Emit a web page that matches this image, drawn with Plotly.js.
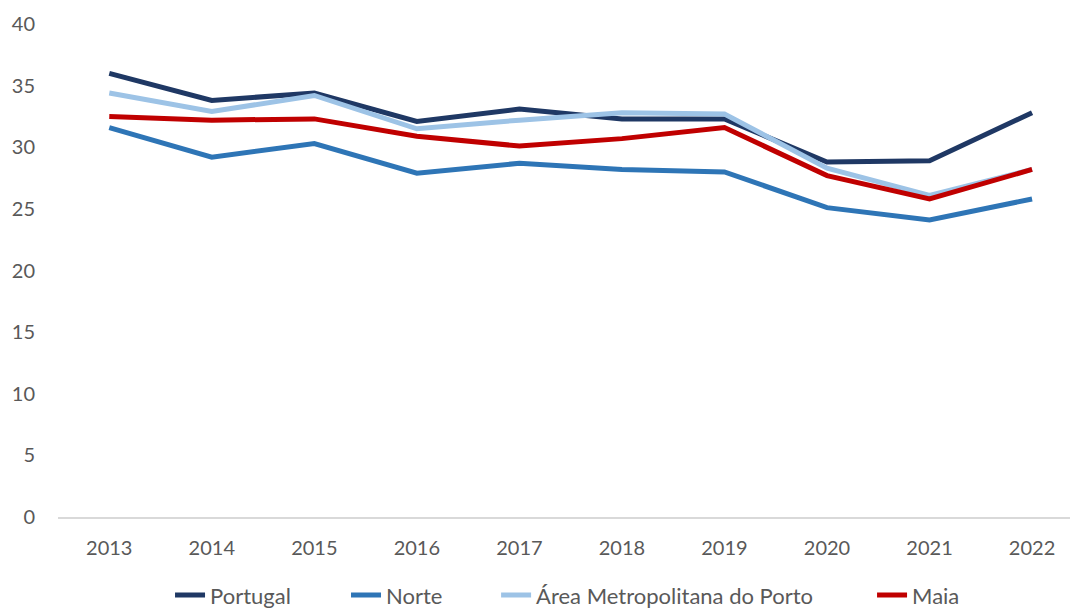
<!DOCTYPE html>
<html>
<head>
<meta charset="utf-8">
<script src="https://cdn.plot.ly/plotly-3.0.1.min.js"></script>
<style>html,body{margin:0;padding:0;background:#fff;}#chart{width:1070px;height:610px;}</style>
</head>
<body>
<div id="chart"></div>
<script>
const years = ["2013","2014","2015","2016","2017","2018","2019","2020","2021","2022"];
const portugal = [36.0, 33.8, 34.4, 32.1, 33.1, 32.3, 32.3, 28.8, 28.9, 32.8];
const norte    = [31.6, 29.2, 30.3, 27.9, 28.7, 28.2, 28.0, 25.1, 24.1, 25.8];
const amp      = [34.4, 32.9, 34.2, 31.5, 32.2, 32.8, 32.7, 28.3, 26.1, 28.2];
const maia     = [32.5, 32.2, 32.3, 30.9, 30.1, 30.7, 31.6, 27.7, 25.8, 28.2];
const seriesNames = ["Portugal", "Norte", "Área Metropolitana do Porto", "Maia"];
const colors = ["#1F3864", "#2E75B6", "#9DC3E6", "#C00000"];
const values = [portugal, norte, amp, maia];
const legendIds = ["legend", "legend2", "legend3", "legend4"];
const legendX = [0.1107, 0.2846, 0.4329, 0.8044];

const traces = values.map((v, i) => ({
  x: years, y: v, name: seriesNames[i], type: "scatter", mode: "lines",
  legend: legendIds[i],
  line: {color: colors[i], width: 5, shape: "linear"}
}));

const layout = {
  width: 1070, height: 610,
  margin: {l: 58, r: 0, t: 24, b: 93, autoexpand: false},
  paper_bgcolor: "#fff", plot_bgcolor: "#fff",
  font: {family: "Lato, 'Liberation Sans', sans-serif", color: "#595959", size: 20},
  showlegend: true,
  xaxis: {type: "category", range: [-0.5, 9.37], showgrid: false, zeroline: false,
          showline: true, linecolor: "#D9D9D9", linewidth: 2, ticks: "", ticklen: 0,
          tickfont: {size: 20, color: "#595959"}, ticklabelstandoff: 12, fixedrange: true},
  yaxis: {range: [0, 40], dtick: 5, showgrid: false, zeroline: false, showline: false,
          ticks: "", tickfont: {size: 20, color: "#595959"}, ticklabelstandoff: 22, fixedrange: true}
};
legendIds.forEach((id, i) => {
  layout[id] = {orientation: "h", x: legendX[i], xanchor: "left", y: -0.116, yanchor: "top",
                font: {size: 22, color: "#595959"}, bgcolor: "rgba(0,0,0,0)"};
});
Plotly.newPlot("chart", traces, layout, {displayModeBar: false, staticPlot: true});
</script>
</body>
</html>
